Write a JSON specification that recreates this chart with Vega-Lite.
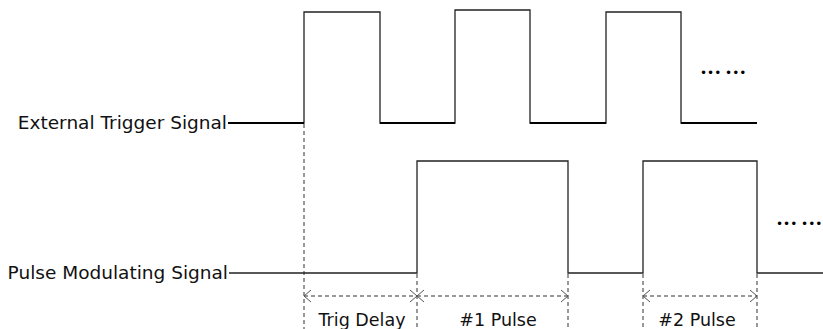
{
  "$schema": "https://vega.github.io/schema/vega-lite/v6.json",
  "width": 823,
  "height": 329,
  "padding": 0,
  "autosize": {"type": "none"},
  "background": "white",
  "config": {"view": {"stroke": null}, "axis": {"disable": true}},
  "datasets": {
    "signals": [
      {"sig": "trig", "i": 0, "t": 228, "v": 123},
      {"sig": "trig", "i": 1, "t": 304, "v": 123},
      {"sig": "trig", "i": 2, "t": 304, "v": 12},
      {"sig": "trig", "i": 3, "t": 380, "v": 12},
      {"sig": "trig", "i": 4, "t": 380, "v": 123},
      {"sig": "trig", "i": 5, "t": 455, "v": 123},
      {"sig": "trig", "i": 6, "t": 455, "v": 10},
      {"sig": "trig", "i": 7, "t": 530, "v": 10},
      {"sig": "trig", "i": 8, "t": 530, "v": 123},
      {"sig": "trig", "i": 9, "t": 606, "v": 123},
      {"sig": "trig", "i": 10, "t": 606, "v": 12},
      {"sig": "trig", "i": 11, "t": 681, "v": 12},
      {"sig": "trig", "i": 12, "t": 681, "v": 123},
      {"sig": "trig", "i": 13, "t": 757, "v": 123},
      {"sig": "pulse", "i": 0, "t": 229, "v": 273},
      {"sig": "pulse", "i": 1, "t": 417, "v": 273},
      {"sig": "pulse", "i": 2, "t": 417, "v": 161},
      {"sig": "pulse", "i": 3, "t": 568, "v": 161},
      {"sig": "pulse", "i": 4, "t": 568, "v": 273},
      {"sig": "pulse", "i": 5, "t": 643, "v": 273},
      {"sig": "pulse", "i": 6, "t": 643, "v": 161},
      {"sig": "pulse", "i": 7, "t": 757, "v": 161},
      {"sig": "pulse", "i": 8, "t": 757, "v": 273},
      {"sig": "pulse", "i": 9, "t": 823, "v": 273}
    ],
    "lows": [
      {"t": 228, "t2": 304, "v": 123},
      {"t": 380, "t2": 455, "v": 123},
      {"t": 530, "t2": 606, "v": 123},
      {"t": 681, "t2": 757, "v": 123}
    ],
    "markers": [
      {"t": 304, "v": 124, "v2": 329},
      {"t": 417, "v": 274, "v2": 329},
      {"t": 568, "v": 274, "v2": 329},
      {"t": 643, "v": 274, "v2": 329},
      {"t": 757, "v": 274, "v2": 329}
    ],
    "spans": [
      {"t": 304, "t2": 417, "v": 296},
      {"t": 417, "t2": 568, "v": 296},
      {"t": 643, "t2": 757, "v": 296}
    ],
    "heads": [
      {"h": "a1", "i": 0, "t": 311, "v": 290},
      {"h": "a1", "i": 1, "t": 304, "v": 296},
      {"h": "a1", "i": 2, "t": 311, "v": 302},
      {"h": "a2", "i": 0, "t": 410, "v": 290},
      {"h": "a2", "i": 1, "t": 417, "v": 296},
      {"h": "a2", "i": 2, "t": 410, "v": 302},
      {"h": "b1", "i": 0, "t": 424, "v": 290},
      {"h": "b1", "i": 1, "t": 417, "v": 296},
      {"h": "b1", "i": 2, "t": 424, "v": 302},
      {"h": "b2", "i": 0, "t": 561, "v": 290},
      {"h": "b2", "i": 1, "t": 568, "v": 296},
      {"h": "b2", "i": 2, "t": 561, "v": 302},
      {"h": "c1", "i": 0, "t": 650, "v": 290},
      {"h": "c1", "i": 1, "t": 643, "v": 296},
      {"h": "c1", "i": 2, "t": 650, "v": 302},
      {"h": "c2", "i": 0, "t": 750, "v": 290},
      {"h": "c2", "i": 1, "t": 757, "v": 296},
      {"h": "c2", "i": 2, "t": 750, "v": 302}
    ],
    "rightLabels": [
      {"label": "External Trigger Signal", "t": 227, "v": 123},
      {"label": "Pulse Modulating Signal", "t": 228, "v": 273}
    ],
    "centerLabels": [
      {"label": "Trig Delay", "t": 362, "v": 326},
      {"label": "#1 Pulse", "t": 498, "v": 326},
      {"label": "#2 Pulse", "t": 697, "v": 326}
    ],
    "dots": [
      {"label": "••• •••", "t": 700, "v": 73},
      {"label": "••• •••", "t": 776, "v": 224}
    ]
  },
  "encoding": {
    "x": {"field": "t", "type": "quantitative", "scale": {"domain": [0, 823], "nice": false, "zero": false}, "axis": null},
    "y": {"field": "v", "type": "quantitative", "scale": {"domain": [0, 329], "nice": false, "zero": false, "reverse": true}, "axis": null}
  },
  "layer": [
    {
      "data": {"name": "markers"},
      "mark": {"type": "rule", "color": "#333", "strokeWidth": 1, "strokeDash": [4, 3]},
      "encoding": {"y2": {"field": "v2"}}
    },
    {
      "data": {"name": "spans"},
      "mark": {"type": "rule", "color": "#777", "strokeWidth": 1.3, "strokeDash": [4, 3]},
      "encoding": {"x2": {"field": "t2"}}
    },
    {
      "data": {"name": "heads"},
      "mark": {"type": "line", "color": "#555", "strokeWidth": 1},
      "encoding": {"detail": {"field": "h"}, "order": {"field": "i"}}
    },
    {
      "data": {"name": "signals"},
      "mark": {"type": "line", "color": "#222", "strokeWidth": 1.3},
      "encoding": {"detail": {"field": "sig"}, "order": {"field": "i"}}
    },
    {
      "data": {"name": "lows"},
      "mark": {"type": "rule", "color": "#000", "strokeWidth": 2.2},
      "encoding": {"x2": {"field": "t2"}}
    },
    {
      "data": {"name": "rightLabels"},
      "mark": {"type": "text", "align": "right", "baseline": "middle", "font": "DejaVu Sans", "fontSize": 18.5, "color": "#111"},
      "encoding": {"text": {"field": "label"}}
    },
    {
      "data": {"name": "centerLabels"},
      "mark": {"type": "text", "align": "center", "baseline": "alphabetic", "font": "DejaVu Sans", "fontSize": 17.5, "color": "#111"},
      "encoding": {"text": {"field": "label"}}
    },
    {
      "data": {"name": "dots"},
      "mark": {"type": "text", "align": "left", "baseline": "middle", "font": "DejaVu Sans", "fontSize": 12, "color": "#000"},
      "encoding": {"text": {"field": "label"}}
    }
  ]
}
